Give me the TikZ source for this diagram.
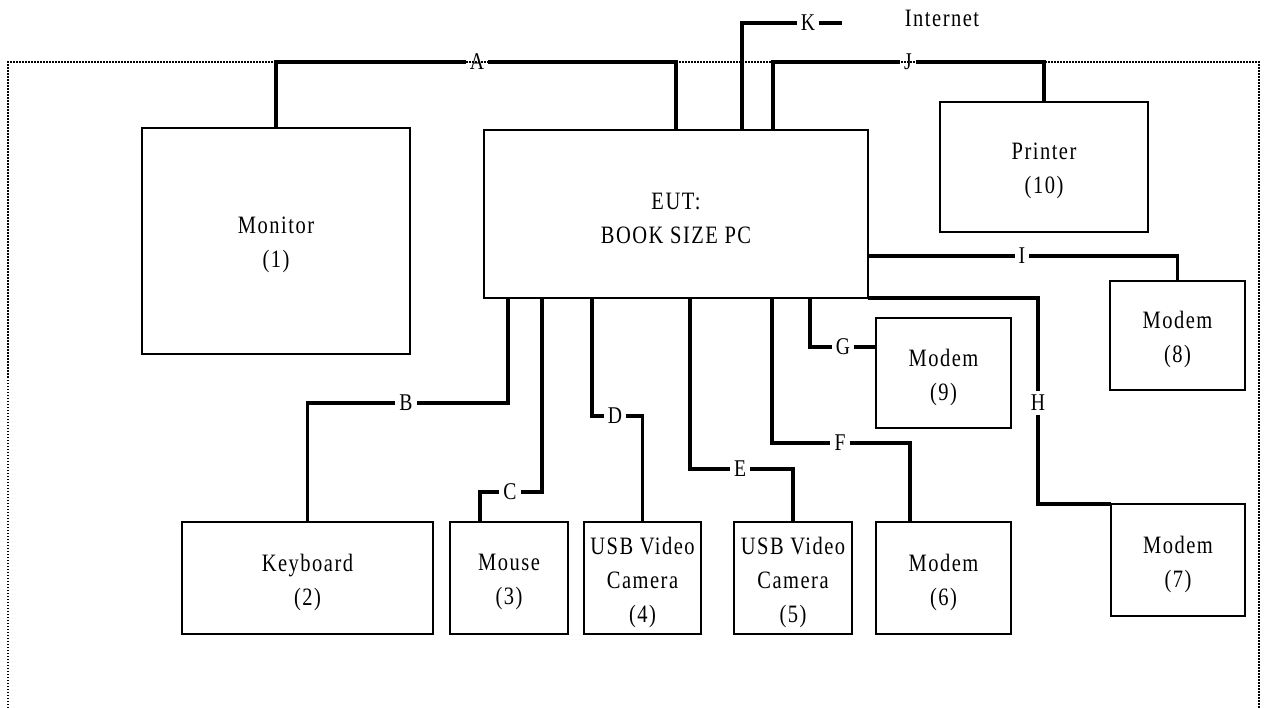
\documentclass[tikz,border=0pt]{standalone}
\usepackage{fontspec}
\setmainfont{Liberation Serif}[FakeStretch=0.82,LetterSpace=6]
\newfontfamily\lblfont{Liberation Serif}[FakeStretch=0.82]
\usetikzlibrary{calc}
\begin{document}
\begin{tikzpicture}[x=1pt,y=-1pt,
  box/.style={draw,line width=1.8pt,inner sep=0pt,outer sep=0pt},
  txt/.style={align=center,inner sep=0pt,yshift=-4pt,font=\fontsize{25}{34}\selectfont},
  cable/.style={line width=3.2pt},
  lbl/.style={inner sep=4pt,font=\lblfont\fontsize{24}{24}\selectfont},
  border/.style={line width=1.5pt,dash pattern=on 1.5pt off 1.5pt}]
\useasboundingbox (0,0) rectangle (1265,708);
\draw[border] (8,708) -- (8,62) -- (1259,62) -- (1259,708);

% boxes
\node[box,minimum width=268pt,minimum height=226pt,label={[txt]center:{Monitor\\(1)}}] (mon) at (276,241) {};
\node[box,minimum width=384pt,minimum height=168pt,label={[txt]center:{EUT:\\BOOK SIZE PC}}] (eut) at (676,214) {};
\node[box,minimum width=208pt,minimum height=130pt,label={[txt]center:{Printer\\(10)}}] (prn) at (1044,167) {};
\node[box,minimum width=135pt,minimum height=109pt,label={[txt]center:{Modem\\(8)}}] (mod8) at (1177.5,335.5) {};
\node[box,minimum width=135pt,minimum height=110pt,label={[txt]center:{Modem\\(9)}}] (mod9) at (943.5,373) {};
\node[box,minimum width=251pt,minimum height=112pt,label={[txt]center:{Keyboard\\(2)}}] (kbd) at (307.5,578) {};
\node[box,minimum width=118pt,minimum height=112pt,label={[txt]center:{Mouse\\(3)}}] (mouse) at (509,578) {};
\node[box,minimum width=117pt,minimum height=112pt,label={[txt]center:{USB Video\\Camera\\(4)}}] (cam4) at (642.5,578) {};
\node[box,minimum width=118pt,minimum height=112pt,label={[txt]center:{USB Video\\Camera\\(5)}}] (cam5) at (793,578) {};
\node[box,minimum width=135pt,minimum height=112pt,label={[txt]center:{Modem\\(6)}}] (mod6) at (943.5,578) {};
\node[box,minimum width=134pt,minimum height=112pt,label={[txt]center:{Modem\\(7)}}] (mod7) at (1178,560) {};

\node[font=\fontsize{25}{34}\selectfont,inner sep=0pt] (inet) at (942,18) {Internet};

% labels
\node[lbl] (lA) at (477,62) {A};
\node[lbl] (lB) at (406,403) {B};
\node[lbl] (lC) at (510,492) {C};
\node[lbl] (lD) at (615,416) {D};
\node[lbl] (lE) at (740,469) {E};
\node[lbl] (lF) at (840,443) {F};
\node[lbl] (lG) at (843,347) {G};
\node[lbl] (lH) at (1038,403) {H};
\node[lbl] (lI) at (1022,256) {I};
\node[lbl] (lJ) at (908,62) {J};
\node[lbl] (lK) at (808,23) {K};

% ports
\coordinate (pK) at ($(eut.north west)+(258,0)$);
\coordinate (pJ) at ($(eut.north west)+(289,0)$);
\coordinate (pB) at ($(eut.south west)+(24,0)$);
\coordinate (pC) at ($(eut.south west)+(58,0)$);
\coordinate (pD) at ($(eut.south west)+(108,0)$);
\coordinate (pE) at ($(eut.south west)+(206,0)$);
\coordinate (pF) at ($(eut.south west)+(288,0)$);
\coordinate (pG) at ($(eut.south west)+(326,0)$);
\coordinate (mouseP) at ($(mouse.north west)+(30,0)$);
\coordinate (mod6P) at ($(mod6.north west)+(34,0)$);
\coordinate (kEnd) at (842,23);

% cables
\draw[cable] (mon.north) |- (lA);
\draw[cable] (lA) -| (eut.north);
\draw[cable] (pK) |- (lK);
\draw[cable] (lK) -- (kEnd);
\draw[cable] (pJ) |- (lJ);
\draw[cable] (lJ) -| (prn.north);
\draw[cable] (lI -| eut.east) -- (lI);
\draw[cable] (lI) -| (mod8.north);
\draw[cable] (eut.south east) -| (lH);
\draw[cable] (lH) |- (mod7.north west);
\draw[cable] (pG) |- (lG);
\draw[cable] (lG) -- (lG -| mod9.west);
\draw[cable] (pF) |- (lF);
\draw[cable] (lF) -| (mod6P);
\draw[cable] (pE) |- (lE);
\draw[cable] (lE) -| (cam5.north);
\draw[cable] (pD) |- (lD);
\draw[cable] (lD) -| (cam4.north);
\draw[cable] (pC) |- (lC);
\draw[cable] (lC) -| (mouseP);
\draw[cable] (pB) |- (lB);
\draw[cable] (lB) -| (kbd.north);
\end{tikzpicture}
\end{document}
